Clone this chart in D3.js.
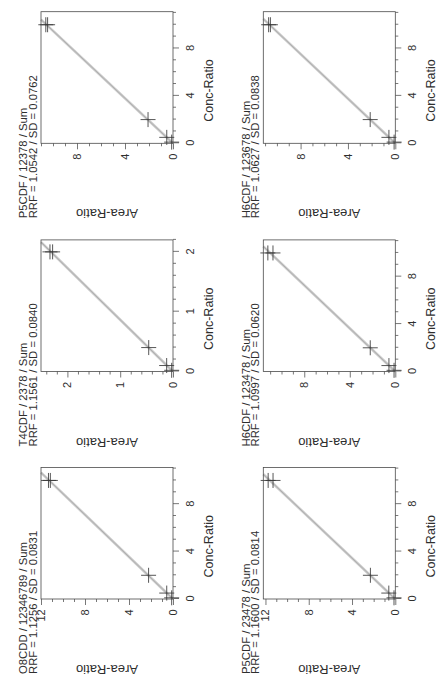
<!DOCTYPE html>
<html>
<head>
<meta charset="utf-8">
<script src="https://cdn.jsdelivr.net/npm/d3@7"></script>
<style>
  html, body { margin: 0; padding: 0; background: #fff; }
  svg { display: block; }
  text { font-family: "Liberation Sans", Arial, sans-serif; fill: #2e2e2e; }
</style>
</head>
<body>
<script>
// Six calibration curves (area ratio vs. concentration ratio), laid out 3 x 2
// and printed turned a quarter turn on the page.
const titles = [
  "O8CDD / 12346789 / Sum",
  "T4CDF / 2378 / Sum",
  "P5CDF / 12378 / Sum",
  "P5CDF / 23478 / Sum",
  "H6CDF / 123478 / Sum",
  "H6CDF / 123678 / Sum"
];
const rrf = [1.1256, 1.1561, 1.0542, 1.1600, 1.0997, 1.0627];
const sdText = ["0.0831", "0.0840", "0.0762", "0.0814", "0.0620", "0.0838"];

// calibration levels (conc ratio) and measured area ratios
const concLevels = [
  [0.1, 0.5, 2, 10, 10],
  [0.02, 0.1, 0.4, 2, 2],
  [0.1, 0.5, 2, 10, 10],
  [0.1, 0.5, 2, 10, 10],
  [0.1, 0.5, 2, 10, 10],
  [0.1, 0.5, 2, 10, 10]
];
const areaRatios = [
  [0.12, 0.57, 2.22, 11.15, 11.32],
  [0.025, 0.12, 0.46, 2.28, 2.33],
  [0.11, 0.52, 2.08, 10.45, 10.6],
  [0.12, 0.6, 2.3, 11.3, 11.75],
  [0.11, 0.56, 2.2, 10.75, 11.2],
  [0.1, 0.54, 2.12, 10.55, 10.7]
];

// axis extents and tick labels
const concMax = [11.1, 2.2, 11.1, 11.1, 11.1, 11.1];
const areaMax = [12, 2.5, 11.0, 12.2, 11.6, 11.15];
const concTicks = [[0, 4, 8], [0, 1, 2], [0, 4, 8], [0, 4, 8], [0, 4, 8], [0, 4, 8]];
const areaTicks = [[0, 4, 8, 12], [0, 1, 2], [0, 4, 8], [0, 4, 8, 12], [0, 4, 8], [0, 4, 8]];
const minorStep = [1, 0.2, 1, 1, 1, 1];

const W = 439, H = 689;          // page
const colLeft = [90, 317.5, 545.7];
const rowTop = [41, 263.3];
const fw = 131.6, fh = 132;

const svg = d3.select("body").append("svg")
  .attr("width", W).attr("height", H);

svg.append("rect").attr("width", W).attr("height", H).attr("fill", "#fff");

// everything is drawn upright, then the group is turned 90deg counter-clockwise
const page = svg.append("g")
  .attr("transform", `translate(0,${H}) rotate(-90)`);

titles.forEach((title, i) => {
  const fl = colLeft[i % 3];
  const ft = rowTop[Math.floor(i / 3)];
  const g = page.append("g").attr("transform", `translate(${fl},${ft})`);

  const x = d3.scaleLinear().domain([0, concMax[i]]).range([0, fw]);
  const y = d3.scaleLinear().domain([0, areaMax[i]]).range([fh, 0]);

  const fmt = d3.format("~g");
  const notMajor = ticks => v => !ticks.some(t => Math.abs(t - v) < 1e-9);
  const minorX = d3.range(0, concMax[i] + 1e-9, minorStep[i]).filter(notMajor(concTicks[i]));
  const minorY = d3.range(0, areaMax[i] + 1e-9, minorStep[i]).filter(notMajor(areaTicks[i]));

  // minor ticks
  g.append("g")
    .attr("transform", `translate(0,${fh})`)
    .call(d3.axisBottom(x).tickValues(minorX).tickSize(3).tickFormat(""));
  g.append("g")
    .call(d3.axisLeft(y).tickValues(minorY).tickSize(3).tickFormat(""));

  // major ticks with labels
  g.append("g")
    .attr("transform", `translate(0,${fh})`)
    .call(d3.axisBottom(x).tickValues(concTicks[i]).tickSize(6).tickPadding(7).tickFormat(fmt));
  g.append("g")
    .call(d3.axisLeft(y).tickValues(areaTicks[i]).tickSize(6).tickPadding(4.3).tickFormat(fmt));

  g.selectAll(".domain").remove();
  g.selectAll(".tick line").attr("stroke", "#555").attr("stroke-width", 0.8);
  g.selectAll(".tick text").attr("font-size", 11).attr("fill", "#2e2e2e")
    .style("font-family", '"Liberation Sans", Arial, sans-serif');

  // regression line through the origin, clipped to the frame
  const xEnd = Math.min(concMax[i], areaMax[i] / rrf[i]);
  const fitLine = d3.line().x(d => x(d)).y(d => y(rrf[i] * d));
  g.append("path").datum([0, xEnd]).attr("d", fitLine)
    .attr("fill", "none").attr("stroke", "#cbcbcb").attr("stroke-width", 2.6);
  g.append("path").datum([0, xEnd]).attr("d", fitLine)
    .attr("fill", "none").attr("stroke", "#a0a0a0").attr("stroke-width", 0.7);

  // calibration points as crosses
  const pts = concLevels[i].map((c, k) => [c, areaRatios[i][k]]);
  const arm = 7.5;
  const cross = g.append("g").attr("stroke", "#383838").attr("stroke-width", 0.85);
  cross.selectAll("line.h").data(pts).join("line").attr("class", "h")
    .attr("x1", d => x(d[0]) - arm).attr("x2", d => x(d[0]) + arm)
    .attr("y1", d => y(d[1])).attr("y2", d => y(d[1]));
  cross.selectAll("line.v").data(pts).join("line").attr("class", "v")
    .attr("x1", d => x(d[0])).attr("x2", d => x(d[0]))
    .attr("y1", d => y(d[1]) - arm).attr("y2", d => y(d[1]) + arm);

  // frame
  g.append("rect").attr("width", fw).attr("height", fh)
    .attr("fill", "none").attr("stroke", "#4a4a4a").attr("stroke-width", 0.8);

  // title
  g.append("text").attr("x", -75).attr("y", -13.6).attr("font-size", 11.3).text(title);
  g.append("text").attr("x", -75).attr("y", -4.3).attr("font-size", 11.3)
    .text(`RRF = ${rrf[i].toFixed(4)} / SD = ${sdText[i]}`);

  // axis titles
  g.append("text")
    .attr("transform", `translate(${-70.7},${fh / 2}) rotate(-90)`)
    .attr("text-anchor", "middle").attr("dy", "0.35em").attr("font-size", 13)
    .text("Area-Ratio");
  g.append("text")
    .attr("x", fw / 2 - 13).attr("y", fh + 39.5)
    .attr("text-anchor", "middle").attr("font-size", 12.5)
    .text("Conc-Ratio");
});
</script>
</body>
</html>
